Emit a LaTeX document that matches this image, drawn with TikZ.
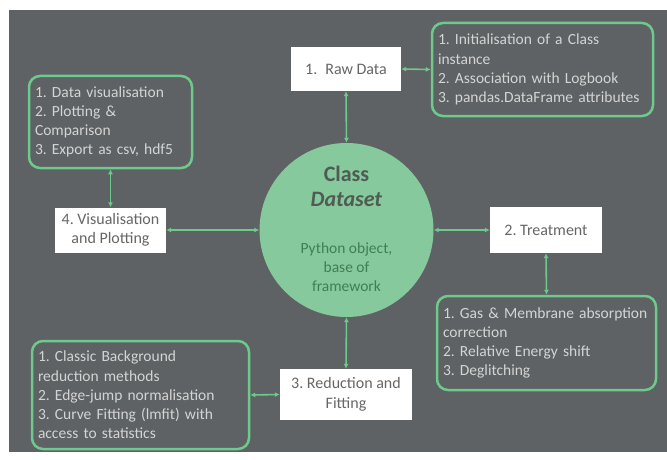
\documentclass[tikz,border=0pt]{standalone}
\usepackage{fontspec}
\setmainfont{Carlito}
\usetikzlibrary{arrows.meta}
\frenchspacing

\definecolor{slate}{HTML}{5E6264}
\definecolor{mint}{HTML}{6EC98D}
\definecolor{mintfill}{HTML}{86C99C}
\definecolor{boxtext}{HTML}{666666}
\definecolor{infotext}{HTML}{D4D4D4}
\definecolor{classtext}{HTML}{4E5C54}
\definecolor{pytext}{HTML}{3F7F55}

\tikzset{
  stage/.style={fill=white, text=boxtext, align=center, inner sep=0pt,
    font=\fontsize{16}{19.5}\selectfont},
  info/.style={draw=mint, line width=2.5pt, rounded corners=11pt, text=infotext,
    align=left, inner xsep=6pt, inner ysep=0pt, font=\fontsize{15.5}{19.2}\selectfont},
  link/.style={mint, line width=1.6pt, {Latex[length=5pt,width=5pt]}-{Latex[length=5pt,width=5pt]}}
}

\begin{document}
\begin{tikzpicture}[x=1pt,y=-1pt]

\fill[white] (0,0) rectangle (667,460);
\fill[slate] (9,10) rectangle (667,452);

\node[circle, fill=mintfill, minimum size=174pt, inner sep=0pt] (ds) at (346.5,230) {};
\node[text=classtext, align=center, font=\fontsize{22}{25}\selectfont\bfseries] (dstitle) at (346.5,186) {Class\\\textit{Dataset}};
\node[text=pytext, align=center, font=\fontsize{15.5}{19.2}\selectfont] (dsnote) at (346.5,267) {Python object,\\base of\\framework};

\node[stage, minimum width=110pt, minimum height=44pt] (raw) at (346,69) {1.\enspace Raw Data};
\node[stage, minimum width=112pt, minimum height=46pt] (treat) at (546,230) {2. Treatment};
\node[stage, minimum width=132pt, minimum height=51pt] (red) at (346,394.5) {3. Reduction and\\Fitting};
\node[stage, minimum width=111pt, minimum height=45pt] (vis) at (110.5,230) {4. Visualisation\\and Plotting};

\node[info, text width=209pt, minimum height=93pt] (rawinfo) at (542.5,69.5) {1. Initialisation of a Class\\instance\\2. Association with Logbook\\3. pandas.DataFrame attributes};
\node[info, text width=207pt, minimum height=94pt] (treatinfo) at (546.5,343) {1. Gas \& Membrane absorption\\correction\\2. Relative Energy shift\\3. Deglitching};
\node[info, text width=205pt, minimum height=108pt] (redinfo) at (140.5,395) {1. Classic Background\\reduction methods\\2. Edge-jump normalisation\\3. Curve Fitting (lmfit) with\\access to statistics};
\node[info, text width=151pt, minimum height=92pt] (visinfo) at (110.5,122) {1. Data visualisation\\2. Plotting \&\\Comparison\\3. Export as csv, hdf5};

\draw[link] (raw.south) -- (ds.north);
\draw[link] (raw.east) -- (rawinfo.west);
\draw[link] (ds.east) -- (treat.west);
\draw[link] (treat.south) -- (treatinfo.north);
\draw[link] (ds.south) -- (red.north);
\draw[link] (red.west) -- (redinfo.east);
\draw[link] (ds.west) -- (vis.east);
\draw[link] (vis.north) -- (visinfo.south);
\end{tikzpicture}
\end{document}
